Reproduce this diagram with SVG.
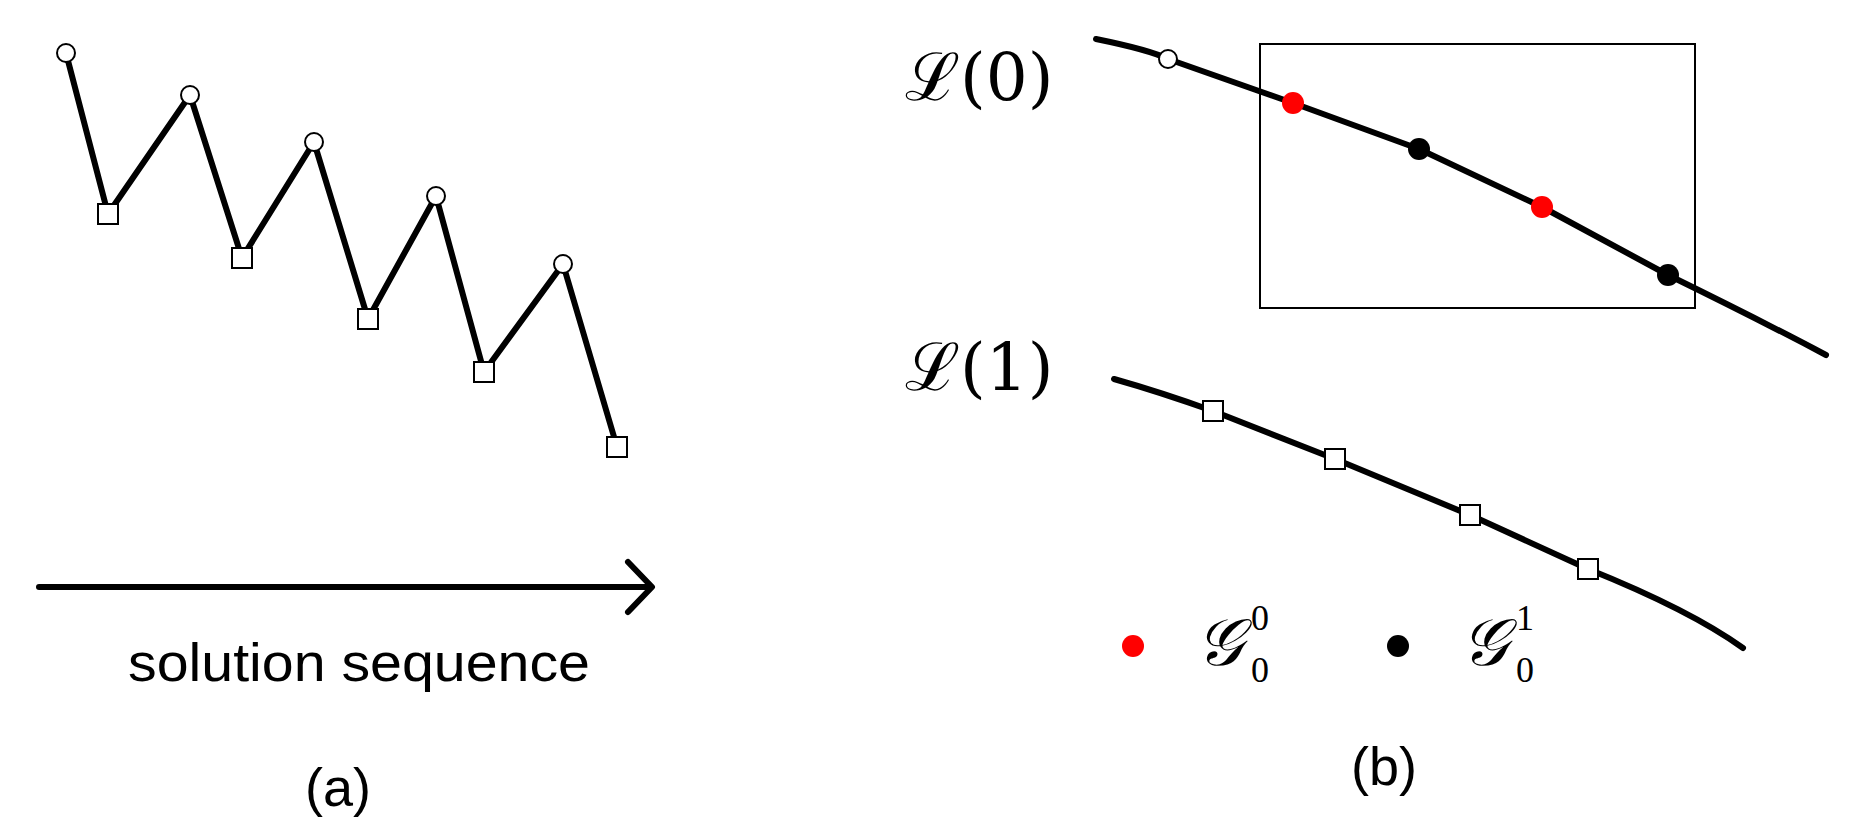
<svg xmlns="http://www.w3.org/2000/svg" width="1849" height="828" viewBox="0 0 1849 828">
<style>
.ln{fill:none;stroke:#000;stroke-width:6;stroke-linecap:round;stroke-linejoin:round}
.oc{fill:#fff;stroke:#000;stroke-width:2}
.sq{fill:#fff;stroke:#000;stroke-width:2}
.t{font-family:"Liberation Sans","DejaVu Sans",sans-serif;font-size:54px}
.m{font-family:"DejaVu Serif","Liberation Serif",serif;font-size:66px}
.s{font-family:"Liberation Serif",serif;font-size:36px}
</style>
<g id="connectors">
<polyline class="ln" points="66,53 108,214 190,95 242,258 314,142 368,319 436,196 484,372 563,264 617,447"/>
<line class="ln" x1="39" y1="587" x2="650" y2="587"/>
<polyline class="ln" points="628,562 652,587 628,612"/>
<path class="ln" d="M1096,39 Q1150,50 1168,59 L1293,103 L1419,149 L1542,207 L1668,275 Q1760,320 1826,355"/>
<path class="ln" d="M1114,379 Q1160,392 1213,411 L1335,459 L1470,515 L1588,569 Q1690,610 1743,648"/>
</g>
<g id="zigzag">
<circle class="oc" cx="66" cy="53" r="9"/><circle class="oc" cx="190" cy="95" r="9"/><circle class="oc" cx="314" cy="142" r="9"/><circle class="oc" cx="436" cy="196" r="9"/><circle class="oc" cx="563" cy="264" r="9"/>
<rect class="sq" x="98" y="204" width="20" height="20"/><rect class="sq" x="232" y="248" width="20" height="20"/><rect class="sq" x="358" y="309" width="20" height="20"/><rect class="sq" x="474" y="362" width="20" height="20"/><rect class="sq" x="607" y="437" width="20" height="20"/>
</g>
<g id="label-a">
<text class="t" x="359" y="681" text-anchor="middle" textLength="462" lengthAdjust="spacingAndGlyphs">solution sequence</text>
<text class="t" x="338" y="806" text-anchor="middle">(a)</text>
</g>
<g id="box"><rect x="1260" y="44" width="435" height="264" fill="none" stroke="#000" stroke-width="2"/></g>
<g id="L0">
<text class="m" x="905" y="100">ℒ(0)</text>
<circle class="oc" cx="1168" cy="59" r="9"/>
<circle cx="1293" cy="103" r="11" fill="#f00"/><circle cx="1419" cy="149" r="11"/><circle cx="1542" cy="207" r="11" fill="#f00"/><circle cx="1668" cy="275" r="11"/>
</g>
<g id="L1">
<text class="m" x="905" y="390">ℒ(1)</text>
<rect class="sq" x="1203" y="401" width="20" height="20"/><rect class="sq" x="1325" y="449" width="20" height="20"/><rect class="sq" x="1460" y="505" width="20" height="20"/><rect class="sq" x="1578" y="559" width="20" height="20"/>
</g>
<g id="legend">
<circle cx="1133" cy="646" r="11" fill="#f00"/>
<text class="m" x="1196" y="665" font-style="italic">𝒢</text><text class="s" x="1251" y="630">0</text><text class="s" x="1251" y="682">0</text>
<circle cx="1398" cy="646" r="11"/>
<text class="m" x="1461" y="665" font-style="italic">𝒢</text><text class="s" x="1516" y="630">1</text><text class="s" x="1516" y="682">0</text>
</g>
<g id="label-b"><text class="t" x="1384" y="785" text-anchor="middle">(b)</text></g>
</svg>
